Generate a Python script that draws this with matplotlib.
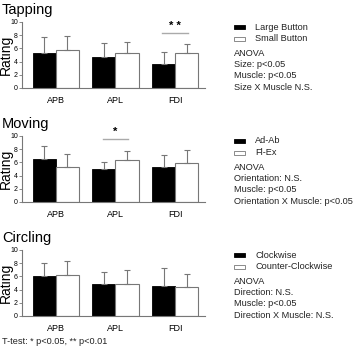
import numpy as np
import matplotlib
matplotlib.use("Agg")
import matplotlib.pyplot as plt
from matplotlib.patches import Rectangle

plt.rcParams['font.family'] = ['Liberation Sans', 'DejaVu Sans']

muscles = ['APB', 'APL', 'FDI']
titles = ['Tapping', 'Moving', 'Circling']
legend_labels = [['Large Button', 'Small Button'],
                 ['Ad-Ab', 'Fl-Ex'],
                 ['Clockwise', 'Counter-Clockwise']]
anova_text = [['ANOVA', 'Size: p<0.05', 'Muscle: p<0.05', 'Size X Muscle N.S.'],
              ['ANOVA', 'Orientation: N.S.', 'Muscle: p<0.05', 'Orientation X Muscle: p<0.05'],
              ['ANOVA', 'Direction: N.S.', 'Muscle: p<0.05', 'Direction X Muscle: N.S.']]

# means and upper error (sd) for first (black) and second (white) condition
mean_a = [[5.3, 4.75, 3.7], [6.5, 4.95, 5.3], [6.0, 4.8, 4.6]]
err_a = [[2.4, 2.0, 1.8], [2.0, 1.15, 1.8], [2.1, 1.8, 2.6]]
mean_b = [[5.75, 5.35, 5.25], [5.35, 6.35, 5.85], [6.2, 4.9, 4.4]]
err_b = [[2.15, 1.65, 1.35], [1.85, 1.45, 2.05], [2.2, 2.0, 2.0]]

# significance marks: (panel, muscle index, stars, line height)
sig_marks = [(0, 2, '* *', 8.27), (1, 1, '*', 9.5)]

W, H = 359, 357
fig = plt.figure(figsize=(W / 100, H / 100), dpi=100)

ax_top = [22, 136, 250]
ax_h = 66
x0, x1 = 22, 205
bw = 0.39
gray = '#777777'

for p in range(3):
    ax = fig.add_axes([x0 / W, 1 - (ax_top[p] + ax_h) / H, (x1 - x0) / W, ax_h / H])
    x = np.arange(len(muscles))
    ax.bar(x - bw / 2, mean_a[p], bw, color='black', edgecolor='black', linewidth=0.6)
    ax.bar(x + bw / 2, mean_b[p], bw, color='white', edgecolor=gray, linewidth=0.8)
    ax.errorbar(x - bw / 2, mean_a[p], yerr=[np.zeros(3), err_a[p]], fmt='none',
                ecolor=gray, elinewidth=0.8, capsize=2, capthick=0.8)
    ax.errorbar(x + bw / 2, mean_b[p], yerr=[np.zeros(3), err_b[p]], fmt='none',
                ecolor=gray, elinewidth=0.8, capsize=2, capthick=0.8)
    ax.set_xlim(-0.567, 2.5)
    ax.set_ylim(0, 10)
    ax.set_yticks([0, 2, 4, 6, 8, 10])
    ax.set_xticks(x)
    ax.set_xticklabels(muscles, fontsize=6.5)
    ax.tick_params(axis='x', length=0, pad=6)
    ax.tick_params(axis='y', labelsize=5, length=2, width=0.6, pad=1, color=gray)
    for s in ['top', 'right']:
        ax.spines[s].set_visible(False)
    for s in ['left', 'bottom']:
        ax.spines[s].set_color(gray)
        ax.spines[s].set_linewidth(0.8)
    ax.set_ylabel('Rating', fontsize=10)
    ax.yaxis.set_label_coords(-0.052, 0.5)

    for (pp, m, stars, ly) in sig_marks:
        if pp == p:
            ax.plot([m - bw / 2 - 0.02, m + bw / 2 + 0.02], [ly, ly], color='#aaaaaa',
                    linewidth=1, clip_on=False)
            ax.text(m, ly + 0.4, stars, ha='center', va='bottom', fontsize=8,
                    fontweight='bold', clip_on=False)

    fig.text(2 / W, 1 - (ax_top[p] - 12) / H, titles[p], fontsize=10.5, ha='left', va='center')

    # legend
    ly0 = ax_top[p] + 5
    for i, lab in enumerate(legend_labels[p]):
        yy = ly0 + i * 11.5
        fc = 'black' if i == 0 else 'white'
        ec = 'black' if i == 0 else gray
        fig.patches.append(Rectangle((234 / W, 1 - (yy + 2) / H), 11 / W, 4 / H,
                                     facecolor=fc, edgecolor=ec, linewidth=0.6,
                                     transform=fig.transFigure, figure=fig))
        fig.text(255 / W, 1 - yy / H, lab, fontsize=6.6, ha='left', va='center', color='#222222')
    for j, line in enumerate(anova_text[p]):
        yy = ly0 + 26 + j * 11.5
        fig.text(234 / W, 1 - yy / H, line, fontsize=6.6, ha='left', va='center', color='#222222')

fig.text(2 / W, 1 - 341 / H, 'T-test: * p<0.05, ** p<0.01', fontsize=6.6, ha='left',
         va='center', color='#222222')

fig.savefig('out.png', dpi=100)
